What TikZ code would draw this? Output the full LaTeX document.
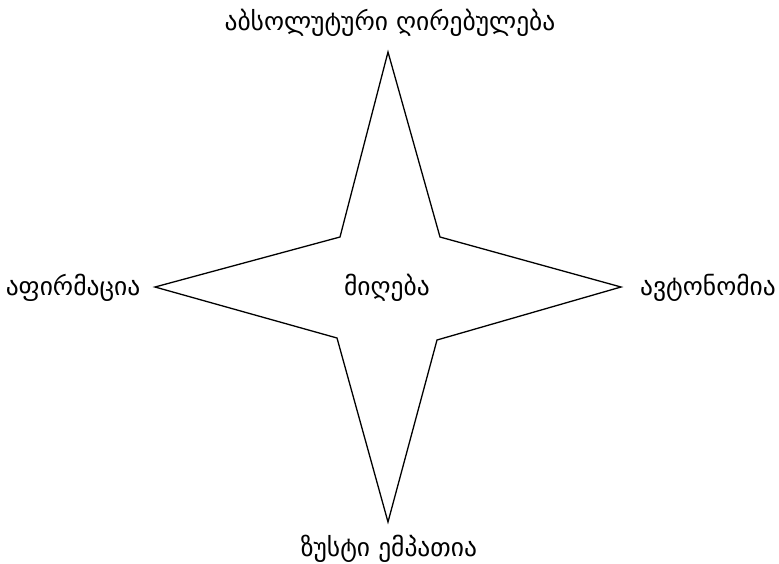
\documentclass[tikz,border=0pt]{standalone}
\usepackage{fontspec}
\newfontfamily\geofont{DejaVu Sans}
\begin{document}
\begin{tikzpicture}[x=1pt,y=-1pt,font=\geofont\fontsize{25.5}{30}\selectfont]
\useasboundingbox (0,0) rectangle (779,563);
\draw[line width=1.3pt,line join=miter] (388,52) -- (440,237) -- (621,287) -- (437,340)
  -- (388,522) -- (337,338) -- (155,287) -- (340,237) -- cycle;
\node (top) at (390,23) {აბსოლუტური ღირებულება};
\node (left) at (73,288) {აფირმაცია};
\node (right) at (708,288) {ავტონომია};
\node (bottom) at (389,549) {ზუსტი ემპათია};
\node (centre) at (387,288) {მიღება};
\end{tikzpicture}
\end{document}
